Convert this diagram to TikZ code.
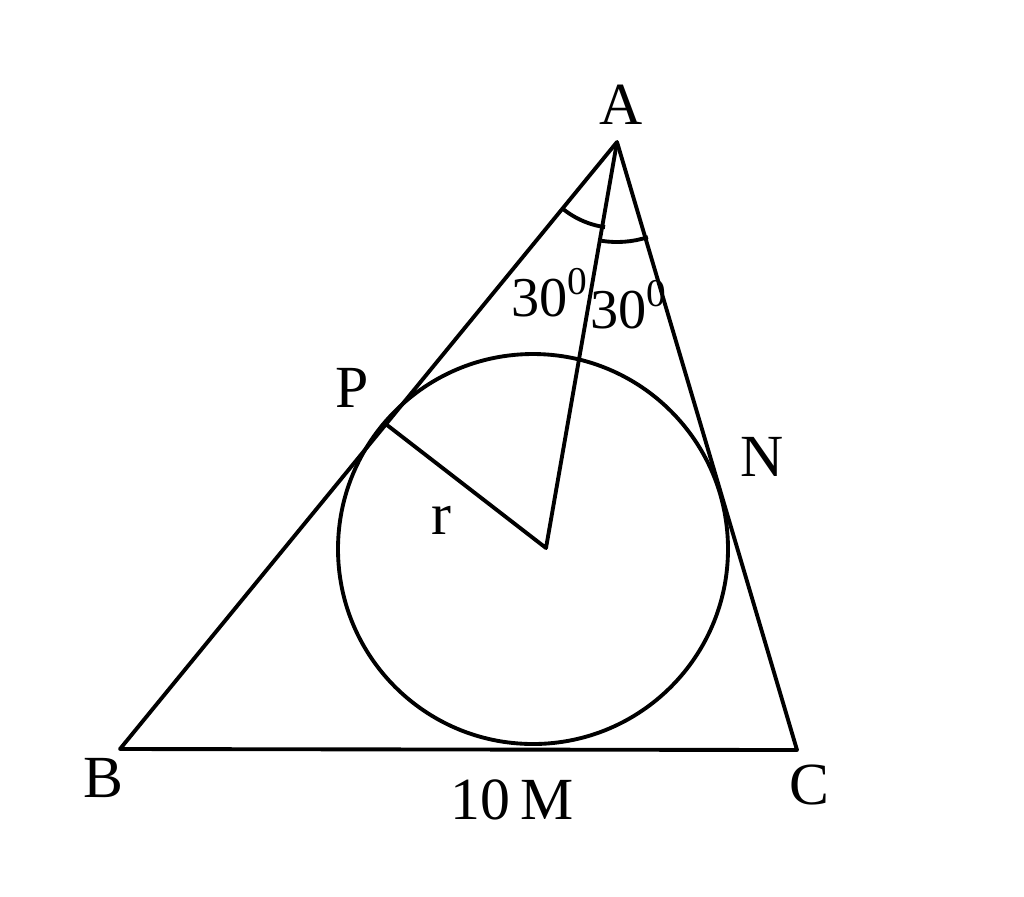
\documentclass[tikz,border=0pt]{standalone}
\usepackage{fontspec}
\setmainfont{Liberation Serif}
\begin{document}
\begin{tikzpicture}[x=0.01cm,y=-0.01cm,
  edge/.style={line width=1.1pt, line join=round},
  lbl/.style={font=\fontsize{17}{20}\selectfont, inner sep=0pt},
  small/.style={font=\fontsize{16}{19}\selectfont, inner sep=0pt}]
\useasboundingbox (0,0) rectangle (1024,896);
\coordinate (A) at (617,142);
\coordinate (B) at (120,749);
\coordinate (C) at (797,750);
\coordinate (O) at (546,548);
\coordinate (P) at (387,425);
\coordinate (Oc) at (533,549);
\draw[edge] (A) -- (B) -- (C) -- cycle;
\draw[edge] (Oc) circle (195);
\draw[edge] (A) -- (O) -- (P);
% angle arcs
\draw[edge] ([shift={(130:86)}]A) arc (130:98:86);
\draw[edge] ([shift={(99:100)}]A) arc (99:72:100);
% labels
\node[lbl] (lA) at (621,105) {A};
\node[lbl] (lB) at (103,778) {B};
\node[lbl] (lC) at (809,785) {C};
\node[lbl] (lP) at (352,388) {P};
\node[lbl] (lN) at (762,457) {N};
\node[lbl] (lr) at (441,520) {r};
\node[lbl] (lM) at (512,800) {10\,M};
\node[small] (a1) at (550,293) {30\textsuperscript{0}};
\node[small] (a2) at (629,305) {30\textsuperscript{0}};
\end{tikzpicture}
\end{document}
